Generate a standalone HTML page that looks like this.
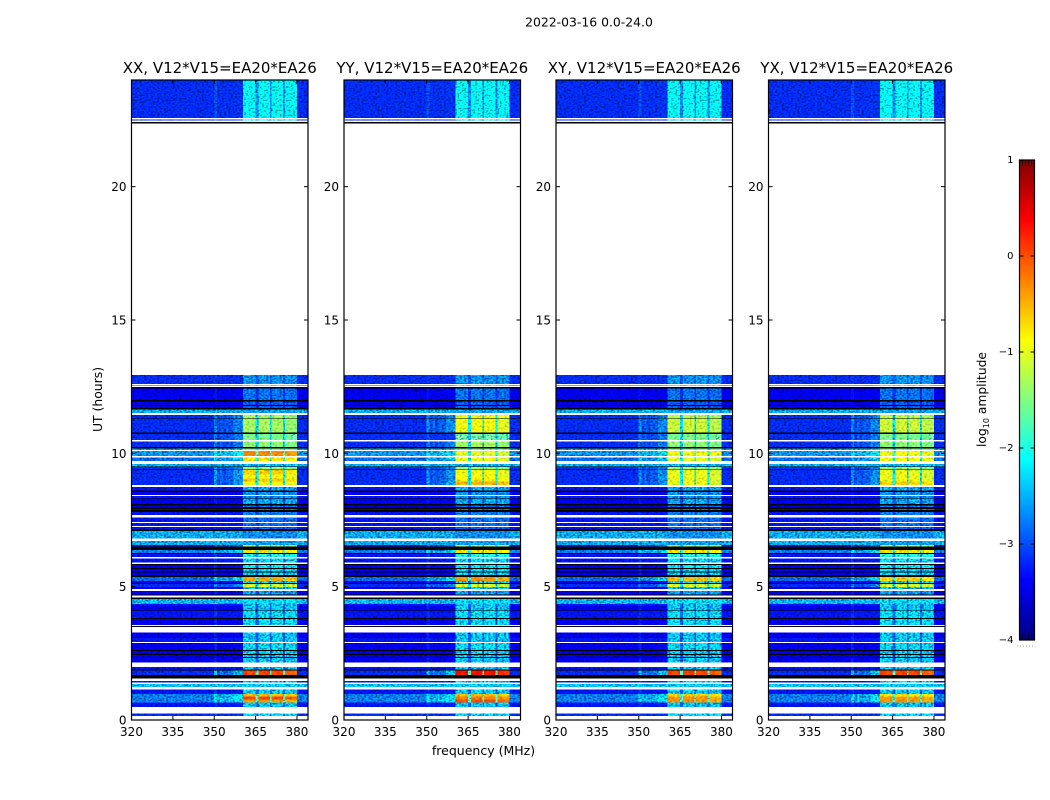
<!DOCTYPE html>
<html lang="en">
<head>
<meta charset="utf-8">
<title>2022-03-16 dynamic spectra</title>
<style>
html,body{margin:0;padding:0;background:#fff;}
svg{display:block;font-family:"DejaVu Sans","Liberation Sans",sans-serif;fill:#000;}
</style>
</head>
<body>
<svg id="chart" xmlns="http://www.w3.org/2000/svg" width="1050" height="800" viewBox="0 0 1050 800">
  <defs>
    <filter id="grain-strong" x="0" y="0" width="1" height="1" color-interpolation-filters="sRGB">
      <feTurbulence type="fractalNoise" baseFrequency="0.45 0.6" numOctaves="1" seed="4" result="t"/>
      <feColorMatrix in="t" type="matrix" values="3 0 0 0 -1  3 0 0 0 -1  3 0 0 0 -1  0 0 0 0 1" result="n"/>
      <feComposite in="SourceGraphic" in2="n" operator="arithmetic" k1="0.85" k2="0.63" k3="0" k4="0"/>
    </filter>
    <filter id="grain-soft" x="0" y="0" width="1" height="1" color-interpolation-filters="sRGB">
      <feTurbulence type="fractalNoise" baseFrequency="0.4 0.5" numOctaves="1" seed="9" result="t"/>
      <feColorMatrix in="t" type="matrix" values="2 0 0 0 -0.5  2 0 0 0 -0.5  2 0 0 0 -0.5  0 0 0 0 1" result="n"/>
      <feComposite in="SourceGraphic" in2="n" operator="arithmetic" k1="0.4" k2="0.8" k3="0" k4="0"/>
    </filter>
    <linearGradient id="jet-gradient" x1="0" y1="1" x2="0" y2="0"></linearGradient>
  </defs>
  <text x="589" y="26.5" font-size="12.4" text-anchor="middle">2022-03-16 0.0-24.0</text>
  <text transform="translate(102,399.5) rotate(-90)" font-size="12.4" text-anchor="middle">UT (hours)</text>
  <text x="483.5" y="755" font-size="12.5" text-anchor="middle">frequency (MHz)</text>
  <g id="panels"></g>
  <g id="colorbar"></g>
  <text transform="translate(986,399.5) rotate(-90)" font-size="12.3" text-anchor="middle">log<tspan font-size="8" dy="3">10</tspan><tspan dy="-3"> amplitude</tspan></text>
</svg>
<script>
const W = 'white';
const K = 'black';
const _ = null;

const panelTitles = ['XX, V12*V15=EA20*EA26', 'YY, V12*V15=EA20*EA26', 'XY, V12*V15=EA20*EA26', 'YX, V12*V15=EA20*EA26'];
const xTickValues = [320, 335, 350, 365, 380];
const yTickValues = [0, 5, 10, 15, 20];
const colorbarTicks = [1, 0, -1, -2, -3, -4];

/* lower edge (UT hours) of each time row, from 24 h downward */
const rowBottom = [
22.58,22.52,22.48,22.43,22.37,12.94,12.60,12.55,12.53,12.48,
12.43,12.00,11.95,11.82,11.78,11.70,11.65,11.52,11.44,11.31,
11.29,10.78,10.73,10.50,10.45,10.23,10.18,10.13,10.09,9.90,
9.85,9.72,9.60,9.50,9.48,9.40,9.38,9.20,9.05,8.95,8.81,8.74,8.60,
8.55,8.44,8.40,8.31,8.28,8.10,8.05,7.98,7.92,7.88,
7.80,7.68,7.59,7.43,7.39,7.28,7.24,7.16,7.09,6.81,
6.72,6.56,6.50,6.38,6.26,6.23,6.11,6.06,5.90,5.85,
5.81,5.70,5.67,5.57,5.54,5.44,5.36,5.22,5.14,5.10,
4.98,4.91,4.84,4.71,4.66,4.60,4.54,4.35,4.28,4.11,
4.09,3.83,3.79,3.57,3.53,3.48,3.42,3.41,3.29,3.08,
2.93,2.89,2.63,2.59,2.48,2.44,2.36,2.33,2.15,1.99,
1.90,1.85,1.68,1.55,1.47,1.40,1.35,1.24,1.15,0.98,
0.88,0.76,0.65,0.48,0.25,0.15,0];

/* out-of-band log10 amplitude per row; W = no data, K = below range */
const rowBackground = [
-3.18,W,-3.18,W,K,W,-3.18,W,-3.18,W,
K,-3.38,K,-3.48,K,-3.48,K,-2.6,W,-3.18,
K,-3.18,K,-3.18,W,-3.18,K,-2.7,W,-2.7,
W,-2.9,W,-2.6,K,-3.18,K,-3.18,-3.18,-3.18,-3.18,W,-3.28,
K,-3.38,W,-3.28,K,-3.38,K,-3.48,K,-3.48,
K,-3.28,W,-3.28,W,-3.28,W,-3.28,K,-2.6,
W,-2.6,-3.28,K,-2.8,K,-3.28,W,-3.28,W,
K,-3.38,K,-3.38,K,-3.38,K,-2.9,-3.38,K,
-3.18,-3.38,W,-3.38,K,W,K,-2.55,-3.28,-3.38,
K,-3.28,K,-3.38,W,K,W,K,W,-3.38,
-3.28,W,-3.38,K,-3.48,K,-3.48,K,-3.38,W,
-3.28,K,-3.18,K,W,-3.28,W,-2.5,W,-3.28,
-2.8,-2.8,-2.8,-3.28,W,-3.18,W];

/* in-band (360-380 MHz) log10 amplitude per row */
const rowBand = [
-2.1,_,-2.25,_,_,_,-2.7,_,-2.7,_,
_,-2.85,_,-2.95,_,-2.95,_,-2.65,_,-1.3,
_,-1.3,_,-1.5,_,-1.4,_,-1.5,_,-0.9,
_,-0.9,_,-2.55,_,-1.3,_,-0.9,-0.9,-0.9,-0.9,_,-2.6,
_,-2.7,_,-2.7,_,-2.6,_,-2.8,_,-2.8,
_,-2.8,_,-2.85,_,-2.85,_,-2.95,_,-2.75,
_,-2.65,-1.1,_,-0.7,_,-1.95,_,-2.35,_,
_,-2.25,_,-2.35,_,-2.35,_,-0.4,-2.35,_,
-1,-2.45,_,-2.65,_,_,_,-2.35,-2.45,-2.45,
_,-2.35,_,-2.35,_,_,_,_,_,-2.45,
-2.45,_,-2.35,_,-2.45,_,-2.45,_,-2.45,_,
-2.45,_,0.1,_,_,-2.45,_,-2.45,_,-2.45,
-0.2,-0.2,-0.2,-2.45,_,-2.35,_];

/* rows where each polarisation differs from rowBand */
const hotRowIndex = [19, 21, 23, 25, 29, 31, 37, 38, 39, 40, 80, 115, 123, 124, 125];
const hotXX = [-1.3, -1.3, -1.5, -1.4, -0.25, -0.7, -0.6, -0.85, -0.55, -0.85, -0.4, 0.1, -0.5, 0.1, -0.35];
const hotYY = [-0.9, -0.9, -1.6, -1.3, -1.0, -0.9, -0.9, -0.85, -0.75, -0.45, -0.3, 0.35, -0.5, -0.2, 0.05];
const hotXY = [-1.2, -1.1, -1.5, -1.4, -0.9, -1.0, -0.95, -0.95, -0.95, -0.95, -0.5, 0.1, -0.6, -0.3, -0.3];
const hotYX = [-1.2, -1.1, -1.5, -1.4, -0.9, -0.9, -0.95, -0.95, -0.9, -0.6, -0.6, 0.1, -0.7, -0.35, -0.3];

/* frequency channels (MHz) and fraction of in-band power in each */
const channelEdges = [320,350,351,352,353,354,357,360.5,362,364,365,366,368,370.2,370.8,372.5,375,375.6,378,380,384];
const channelWeight = [0,0.2,0.06,0.12,0.06,0.1,0.2,1,0.97,1,0.42,0.98,1,0.42,0.97,0.99,0.42,0.95,0.93,0];

const panelLeft = [131.5, 344, 556, 768.5];
const panelHot = [hotXX, hotYY, hotXY, hotYX];
const PW = 176.5, TOP = 80, BOTTOM = 720;
const NS = 'http://www.w3.org/2000/svg';

function xScale(p, f) { return panelLeft[p] + (f - 320) * PW / 64; }
function yScale(h) { return BOTTOM - h * (BOTTOM - TOP) / 24; }
function cbScale(v) { return 640 - (v + 4) * 96; }

function jet(v) {
  const t = Math.max(0, Math.min(1, (v + 4) / 5));
  const c = x => Math.max(0, Math.min(1, 1.5 - Math.abs(4 * t - x)));
  const h = x => Math.round(c(x) * 255);
  return 'rgb(' + h(3) + ',' + h(2) + ',' + h(1) + ')';
}

function make(tag, attrs, parent) {
  const el = document.createElementNS(NS, tag);
  for (const k in attrs) el.setAttribute(k, attrs[k]);
  parent.appendChild(el);
  return el;
}

const panelsRoot = document.getElementById('panels');

panelLeft.forEach((left, p) => {
  const g = make('g', {}, panelsRoot);
  
  

  const noisy = make('g', { filter: 'url(#grain-strong)', 'shape-rendering': 'crispEdges' }, g);
  
  
  const soft = make('g', { filter: 'url(#grain-soft)', 'shape-rendering': 'crispEdges' }, g);
  
  
  const flagged = make('g', { 'shape-rendering': 'crispEdges' }, g);
  
  

  let upper = 24;
  rowBottom.forEach((lower, r) => {
    const bg = rowBackground[r];
    const y = yScale(upper), h = yScale(lower) - y;
    if (bg === K) {
      const blackRow = make('rect', { x: left, y: y, width: PW, height: h, fill: '#000' }, flagged);
      
      
    } else if (bg !== W) {
      const hotAt = hotRowIndex.indexOf(r);
      const band = hotAt >= 0 ? panelHot[p][hotAt] : rowBand[r];
      channelWeight.forEach((w, c) => {
        const x0 = xScale(p, channelEdges[c]), x1 = xScale(p, channelEdges[c + 1]);
        /* out-of-band skirt only shows up next to strong in-band power; the 350 MHz line always shows */
        const skirt = (w < 0.3 && band < -1.5) ? (c === 1 ? w * 0.7 : w * 0.15) : w;
        const v = bg + (band - bg) * skirt;
        const cell = make('rect', { x: x0, y: y, width: x1 - x0, height: h, fill: jet(v) }, v > -1.6 ? soft : noisy);
        
        
      });
    }
    upper = lower;
  });

  const frame = make('rect', { x: left, y: TOP, width: PW, height: BOTTOM - TOP, fill: 'none', stroke: '#000', 'stroke-width': 1.2 }, g);
  
  

  const title = make('text', { x: left + PW / 2, y: 73, 'font-size': 15, 'text-anchor': 'middle' }, g);
  title.textContent = panelTitles[p];
  
  

  xTickValues.forEach(v => {
    const x = xScale(p, v);
    const t1 = make('line', { x1: x, x2: x, y1: BOTTOM, y2: BOTTOM - 4, stroke: '#000', 'stroke-width': 1 }, g);
    
    
    const t2 = make('line', { x1: x, x2: x, y1: TOP, y2: TOP + 4, stroke: '#000', 'stroke-width': 1 }, g);
    
    
    const lab = make('text', { x: x, y: 736, 'font-size': 12, 'text-anchor': 'middle' }, g);
    lab.textContent = v;
    
    
  });

  yTickValues.forEach(v => {
    const y = yScale(v);
    const t1 = make('line', { x1: left, x2: left + 4, y1: y, y2: y, stroke: '#000', 'stroke-width': 1 }, g);
    
    
    const t2 = make('line', { x1: left + PW, x2: left + PW - 4, y1: y, y2: y, stroke: '#000', 'stroke-width': 1 }, g);
    
    
    const lab = make('text', { x: left - 5, y: y + 4.5, 'font-size': 12, 'text-anchor': 'end' }, g);
    lab.textContent = v;
    
    
  });
});

/* colorbar */
const grad = document.getElementById('jet-gradient');
for (let i = 0; i <= 40; i++) {
  make('stop', { offset: (i / 40), 'stop-color': jet(-4 + i / 8) }, grad);
}
const cb = document.getElementById('colorbar');
const cbLeft = 1019.5, cbRight = 1034.5;
const cbBody = make('rect', { x: cbLeft, y: cbScale(1), width: cbRight - cbLeft, height: cbScale(-4) - cbScale(1), fill: 'url(#jet-gradient)', stroke: '#000', 'stroke-width': 1.2 }, cb);



colorbarTicks.forEach(v => {
  const y = cbScale(v);
  const a = make('line', { x1: cbLeft, x2: cbLeft + 4, y1: y, y2: y, stroke: '#000' }, cb);
  
  
  const b = make('line', { x1: cbRight, x2: cbRight - 4, y1: y, y2: y, stroke: '#000' }, cb);
  
  
  const lab = make('text', { x: 1013.5, y: y + 3, 'font-size': 10, 'text-anchor': 'end' }, cb);
  lab.textContent = (v < 0 ? '\u2212' + (-v) : String(v));
  
  
});

[1022.5, 1025.5, 1028.5, 1031.5].forEach(x => {
  const a = make('line', { x1: x, x2: x, y1: 160, y2: 166, stroke: '#000', 'stroke-width': 0.8 }, cb);
  
  
  const b = make('line', { x1: x, x2: x, y1: 640, y2: 634, stroke: '#000', 'stroke-width': 0.8 }, cb);
  
  
});
const dots = make('line', { x1: 1017, x2: 1035, y1: 646, y2: 646, stroke: '#999', 'stroke-width': 1, 'stroke-dasharray': '1 2' }, cb);


</script>
</body>
</html>
